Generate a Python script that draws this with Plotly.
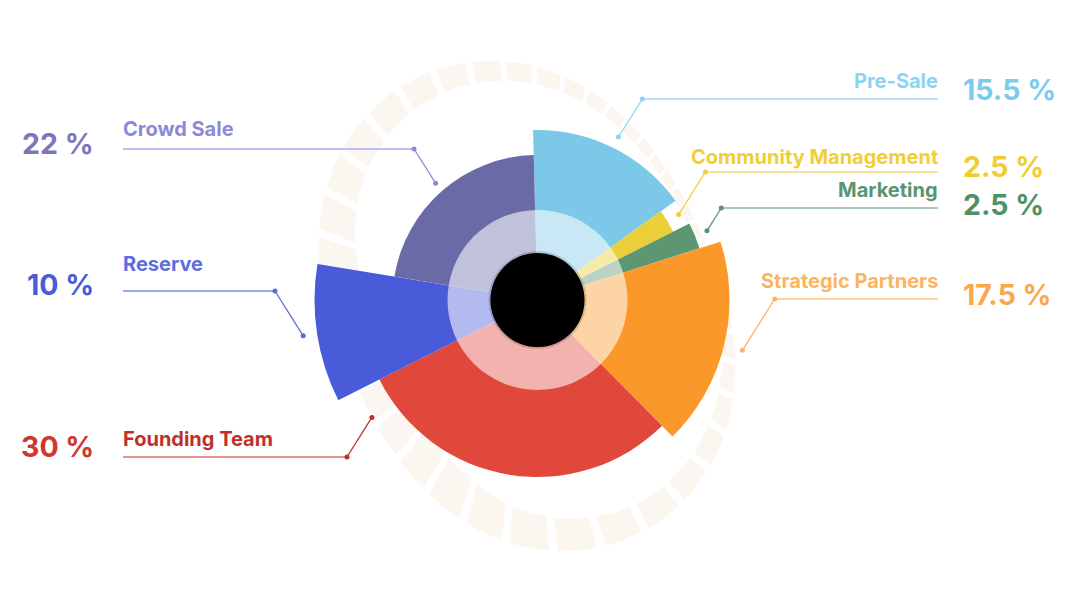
import math
import plotly.graph_objects as go

# ---------------- data ----------------
categories = ["Pre-Sale", "Community Management", "Marketing", "Strategic Partners",
              "Founding Team", "Reserve", "Crowd Sale"]
shares = [15.5, 2.5, 2.5, 17.5, 30, 10, 22]
pct_labels = ["15.5 %", "2.5 %", "2.5 %", "17.5 %", "30 %", "10 %", "22 %"]

# ---------------- style ----------------
seg_colors = ["#7cc8e8", "#ebcf3a", "#5c9772", "#fb982a", "#e0483c", "#4a5bd9", "#6a6ba6"]
label_colors = ["#8dd3f2", "#efcf35", "#5a9470", "#fdb462", "#c0302a", "#5a6ee0", "#8d89d8"]
pct_colors = ["#7ccbed", "#efcd30", "#4f9166", "#fba84a", "#d2372e", "#4a5bd8", "#7a78bd"]
hline_colors = ["#b5e2f5", "#f5e49a", "#a9c9b3", "#fdd29e", "#e39590", "#9aa6f2", "#c0bdf5"]
seg_radius = [170, 152, 170, 192, 177, 223, 145]       # visual outer radius (px)
start_angle = -1.5
side = [1, 1, 1, 1, -1, -1, -1]                         # +1 right column, -1 left column
row_y = [99, 172, 208, 299, 457, 291, 149]              # leader horizontal line rows (px)
label_y = [81, 157, 190, 281, 439, 264, 129]
pct_y = [89, 166, 204, 294, 446, 284, 143]
leader_frac = [0.5, 0.5, 0.5, 0.5, 0.92, 0.5, 0.5]
leader_gap = [12, 13, 13, 19, 26, 14, 10]
FONT = "Inter"

W, H = 1092, 601
CX, CY, R = 537.5, 300, 250

# angles
widths = [s * 3.6 for s in shares]
starts = []
acc = start_angle
for w in widths:
    starts.append(acc)
    acc += w
mids = [s + w / 2 for s, w in zip(starts, widths)]

fig = go.Figure()

# ---------- decorative dashed ring (pixel-space cartesian) ----------
RC_X, RC_Y = 527, 306
def ring_outer(th):
    return (221 + 29 * math.cos(math.radians(2 * (th - 330)))
            + 6 * math.cos(math.radians(2 * th)))
def ring_thick(th):
    return 27 + 18 * math.cos(math.radians(th - 240))
def warp(s):
    return s + 0.35 * math.degrees(1) * math.sin(math.radians(s - 225))
N = 41
step = 360 / N
rx, ry = [], []
for i in range(N):
    sc = 340 + i * step
    a0, a1 = warp(sc - step * 0.41), warp(sc + step * 0.41)
    pts_out, pts_in = [], []
    for k in range(9):
        th = a0 + (a1 - a0) * k / 8
        ro = ring_outer(th)
        ri = ro - ring_thick(th)
        t = math.radians(th)
        pts_out.append((RC_X + ro * math.sin(t), RC_Y - ro * math.cos(t)))
        pts_in.append((RC_X + ri * math.sin(t), RC_Y - ri * math.cos(t)))
    poly = pts_out + pts_in[::-1] + [pts_out[0]]
    rx += [p[0] for p in poly] + [None]
    ry += [p[1] for p in poly] + [None]
fig.add_trace(go.Scatter(x=rx, y=ry, mode="lines", fill="toself", fillcolor="#fcf6f1",
                         line=dict(width=0, color="rgba(0,0,0,0)"), hoverinfo="skip",
                         xaxis="x", yaxis="y"))

# ---------- leader lines ----------
for i in range(len(categories)):
    th = starts[i] + widths[i] * leader_frac[i]
    rr = seg_radius[i] + leader_gap[i]
    t = math.radians(th)
    dx, dy = CX + rr * math.sin(t), CY - rr * math.cos(t)
    ex = dx + side[i] * abs(dy - row_y[i]) * 0.63
    endx = 938 if side[i] > 0 else 123
    fig.add_trace(go.Scatter(x=[ex, endx], y=[row_y[i], row_y[i]], mode="lines",
                             line=dict(color=hline_colors[i], width=2), hoverinfo="skip"))
    fig.add_trace(go.Scatter(x=[dx, ex], y=[dy, row_y[i]], mode="lines+markers",
                             line=dict(color=label_colors[i], width=1.3),
                             marker=dict(size=5, color=label_colors[i]), hoverinfo="skip"))

# ---------- polar segments ----------
fig.add_trace(go.Barpolar(r=seg_radius, theta=mids, width=widths, base=0,
                          marker=dict(color=seg_colors, line=dict(width=0)),
                          hovertext=categories, subplot="polar"))
# translucent inner ring
fig.add_trace(go.Barpolar(r=[43], base=[47], theta=[180], width=[360],
                          marker=dict(color="rgba(255,255,255,0.58)", line=dict(width=0)),
                          hoverinfo="skip", subplot="polar"))
# soft shadow + black core
fig.add_trace(go.Barpolar(r=[3], base=[46], theta=[180], width=[360],
                          marker=dict(color="rgba(0,0,0,0.15)", line=dict(width=0)),
                          hoverinfo="skip", subplot="polar"))
fig.add_trace(go.Barpolar(r=[47], base=[0], theta=[180], width=[360],
                          marker=dict(color="#000000", line=dict(width=0)),
                          hoverinfo="skip", subplot="polar"))

# ---------- text ----------
ann = []
for i, name in enumerate(categories):
    if side[i] > 0:
        ann.append(dict(x=940, y=label_y[i], text=name, xanchor="right", yanchor="middle",
                        showarrow=False, font=dict(family=FONT, size=20, color=label_colors[i], weight=700)))
        ann.append(dict(x=961, y=pct_y[i], text=pct_labels[i], xanchor="left", yanchor="middle",
                        showarrow=False, font=dict(family=FONT, size=28.5, color=pct_colors[i], weight=700)))
    else:
        ann.append(dict(x=121, y=label_y[i], text=name, xanchor="left", yanchor="middle",
                        showarrow=False, font=dict(family=FONT, size=20, color=label_colors[i], weight=700)))
        ann.append(dict(x=96, y=pct_y[i], text=pct_labels[i], xanchor="right", yanchor="middle",
                        showarrow=False, font=dict(family=FONT, size=28.5, color=pct_colors[i], weight=700)))
for a in ann:
    a["xref"] = "x"
    a["yref"] = "y"

fig.update_layout(
    width=W, height=H, margin=dict(l=0, r=0, t=0, b=0),
    paper_bgcolor="white", plot_bgcolor="rgba(0,0,0,0)", showlegend=False,
    xaxis=dict(range=[0, W], domain=[0, 1], visible=False, fixedrange=True),
    yaxis=dict(range=[H, 0], domain=[0, 1], visible=False, fixedrange=True),
    polar=dict(
        domain=dict(x=[(CX - R) / W, (CX + R) / W], y=[(H - CY - R) / H, (H - CY + R) / H]),
        bgcolor="rgba(0,0,0,0)", bargap=0, hole=0,
        radialaxis=dict(range=[0, R], visible=False),
        angularaxis=dict(rotation=90, direction="clockwise", visible=False),
    ),
    annotations=ann,
)

fig.write_html("out.html")
